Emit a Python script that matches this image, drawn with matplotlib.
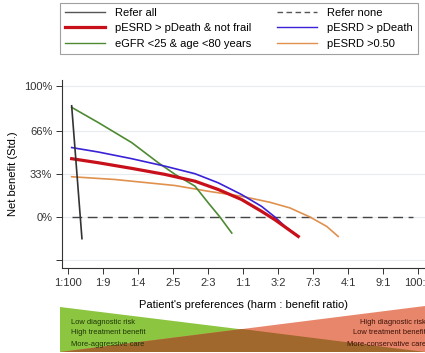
import matplotlib.pyplot as plt
from matplotlib.lines import Line2D
from matplotlib.patches import Polygon

plt.rcParams['font.family'] = ['Liberation Sans', 'DejaVu Sans']

# threshold position (0 = 1:100 ... 1 = 100:1) and standardized net benefit (%)
tick_pos = [0.0, 0.1, 0.2, 0.3, 0.4, 0.5, 0.6, 0.7, 0.8, 0.9, 1.0]
tick_labels = ['1:100', '1:9', '1:4', '2:5', '2:3', '1:1', '3:2', '7:3', '4:1', '9:1', '100:1']

all_x = [0.0106, 0.04]
all_y = [84.9, -16.6]

none_x = [0.011, 0.986]
none_y = [0, 0]

frail_x = [0.0106, 0.0866, 0.182, 0.277, 0.363, 0.429, 0.496, 0.553, 0.591, 0.658]
frail_y = [44.5, 41.4, 37.1, 32.5, 27.3, 21.0, 13.3, 4.3, -2.1, -14.9]

death_x = [0.0106, 0.0866, 0.182, 0.277, 0.363, 0.429, 0.496, 0.553, 0.591, 0.62, 0.658]
death_y = [53.0, 49.6, 44.5, 38.8, 33.0, 26.1, 17.1, 8.1, 0.0, -7.2, -14.9]

egfr_x = [0.0106, 0.0866, 0.182, 0.258, 0.306, 0.363, 0.401, 0.434, 0.468]
egfr_y = [83.7, 72.1, 56.8, 41.4, 32.5, 23.5, 10.7, 0.0, -12.3]

p50_x = [0.0106, 0.134, 0.306, 0.401, 0.496, 0.577, 0.634, 0.691, 0.739, 0.772]
p50_y = [30.7, 28.6, 24.0, 19.6, 15.8, 11.2, 6.9, 0.0, -7.2, -14.9]

fig = plt.figure(figsize=(4.25, 3.53), dpi=100)

# colored preference band under the x axis (pixel coords)
band = fig.add_axes([0, 0, 1, 1], zorder=-1)
band.set_xlim(0, 425)
band.set_ylim(353, 0)
band.axis('off')
band.add_patch(Polygon([(60, 307), (60, 352), (425, 352)], closed=True, color='#8cc540', lw=0))
band.add_patch(Polygon([(425, 306), (425, 352), (60, 352)], closed=True, color='#e8866c', lw=0))
band.add_patch(Polygon([(60, 352), (425, 352), (242, 329)], closed=True, color='#a0682c', lw=0))
left_txt = ['Low diagnostic risk', 'High treatment benefit', 'More-aggressive care']
right_txt = ['High diagnostic risk', 'Low treatment benefit', 'More-conservative care']
for i, (lt, rt) in enumerate(zip(left_txt, right_txt)):
    yy = 322 + i * 11
    band.text(71, yy, lt, fontsize=5.4, color='#1c3408', va='center', ha='left')
    band.text(426, yy, rt, fontsize=5.4, color='#3a1006', va='center', ha='right')

ax = fig.add_axes([62 / 425, 1 - 268 / 353, (425 - 62) / 425, (268 - 80) / 353])
ax.set_xlim(-0.017, 1.02)
ax.set_ylim(-39, 104.6)

for g in [100, 66, 33, 0, -33]:
    ax.axhline(g, color='#e6ecf0', lw=0.8, zorder=0)

ax.plot(none_x, none_y, color='#444444', lw=1.0, dashes=(7, 4))
ax.plot(p50_x, p50_y, color='#e0914e', lw=1.2)
ax.plot(egfr_x, egfr_y, color='#4f8a33', lw=1.2)
ax.plot(death_x, death_y, color='#3a22d6', lw=1.2)
ax.plot(frail_x, frail_y, color='#c8101a', lw=2.3)
ax.plot(all_x, all_y, color='#333333', lw=1.2)

ax.set_xticks(tick_pos)
ax.set_xticklabels(tick_labels, fontsize=8)
ax.set_yticks([100, 66, 33, 0, -33])
ax.set_yticklabels(['100%', '66%', '33%', '0%', ''], fontsize=8)
ax.tick_params(direction='out', length=4, width=0.7, colors='#333333', pad=3)
ax.set_ylabel('Net benefit (Std.)', fontsize=8, labelpad=4)
ax.set_xlabel("Patient's preferences (harm : benefit ratio)", fontsize=8, labelpad=9)
for s in ['top', 'right']:
    ax.spines[s].set_visible(False)
for s in ['left', 'bottom']:
    ax.spines[s].set_color('#333333')
    ax.spines[s].set_linewidth(0.8)

handles = [
    Line2D([], [], color='#555555', lw=1.0),
    Line2D([], [], color='#c8101a', lw=2.3),
    Line2D([], [], color='#4f8a33', lw=1.0),
    Line2D([], [], color='#555555', lw=1.0, dashes=(4, 2.5)),
    Line2D([], [], color='#3a22d6', lw=1.0),
    Line2D([], [], color='#e0914e', lw=1.0),
]
labels = ['Refer all', 'pESRD > pDeath & not frail', 'eGFR <25 & age <80 years',
          'Refer none', 'pESRD > pDeath', 'pESRD >0.50']
leg = fig.legend(handles, labels, ncol=2, fontsize=8, loc='upper left',
                 bbox_to_anchor=(60 / 425, 1 - 3 / 353, 358 / 425, 0.0),
                 mode='expand', frameon=True, fancybox=False, handlelength=3.6,
                 handletextpad=0.9, labelspacing=0.48, borderpad=0.45,
                 borderaxespad=0.0, columnspacing=1.5)
leg.get_frame().set_edgecolor('#888888')
leg.get_frame().set_linewidth(0.8)

fig.savefig('out.png', dpi=100)
